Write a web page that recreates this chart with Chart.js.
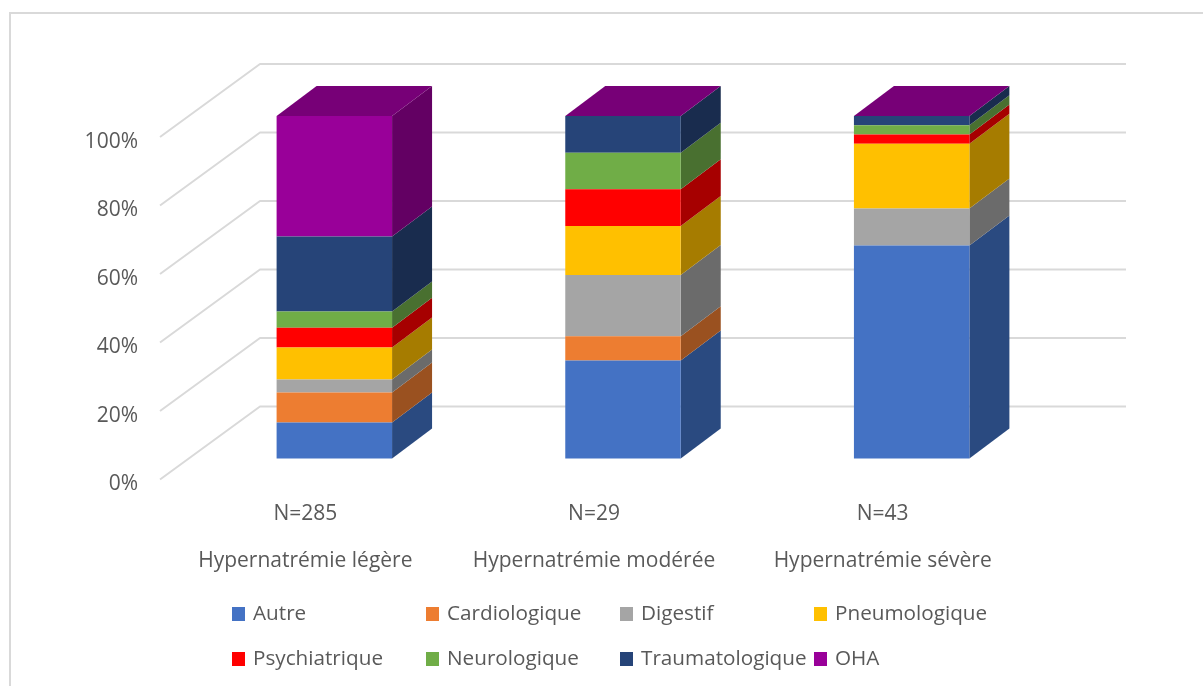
<!DOCTYPE html>
<html>
<head>
<meta charset="utf-8">
<style>html,body{margin:0;padding:0;background:#fff}canvas{display:block}</style>
<script src="https://cdn.jsdelivr.net/npm/chart.js@4"></script>
</head>
<body>
<canvas id="c" width="1203" height="686"></canvas>
<script>
const categories = [["N=285","Hypernatrémie légère"],["N=29","Hypernatrémie modérée"],["N=43","Hypernatrémie sévère"]];
const seriesNames = ["Autre","Cardiologique","Digestif","Pneumologique","Psychiatrique","Neurologique","Traumatologique","OHA"];
const autre = [10.5,28.6,62.2];
const cardiologique = [8.8,7.1,0];
const digestif = [3.8,17.9,10.8];
const pneumologique = [9.3,14.3,18.9];
const psychiatrique = [5.8,10.7,2.7];
const neurologique = [4.7,10.7,2.7];
const traumatologique = [21.9,10.7,2.7];
const oha = [35.2,0,0];
const seriesValues = [autre,cardiologique,digestif,pneumologique,psychiatrique,neurologique,traumatologique,oha];
const frontColors = ["#4472C4","#ED7D31","#A5A5A5","#FFC000","#FF0000","#70AD47","#264478","#990099"];
const sideColors = ["#2A4A80","#9A5120","#6B6B6B","#A67C00","#A60000","#497030","#192C4E","#630063"];
const topColor = "#770077";
const gridColor = "#D9D9D9";
const textColor = "#595959";
const fontFamily = "'Open Sans', sans-serif";
const legendColumns = [232,426,620,814];
const legendRows = [614,659];

const wallDX = 100, wallDY = -73;      // depth of the side wall
const barDX = 30, barDY = -21;         // bar front face offset into the depth
const sideDX = 40, sideDY = -30;       // bar depth

const scene3d = {
  id: 'scene3d',
  beforeDraw(chart){
    const c = chart.ctx;
    c.save();
    c.strokeStyle = gridColor; c.lineWidth = 2;
    c.beginPath();
    c.moveTo(10,686); c.lineTo(10,13); c.lineTo(1203,13);
    c.stroke();
    c.restore();
  },
  beforeDatasetsDraw(chart){
    const c = chart.ctx, ya = chart.scales.y, area = chart.chartArea;
    c.save();
    c.strokeStyle = gridColor; c.lineWidth = 2; c.lineJoin = 'round';
    ya.ticks.forEach(t => {
      const y = ya.getPixelForValue(t.value);
      c.beginPath();
      c.moveTo(area.left, y);
      c.lineTo(area.left + wallDX, y + wallDY);
      c.lineTo(area.right + wallDX, y + wallDY);
      c.stroke();
    });
    c.restore();
    c.save();
    c.translate(barDX, barDY);
    chart.data.datasets.forEach((ds, i) => {
      chart.getDatasetMeta(i).data.forEach(el => {
        const p = el.getProps(['x','y','base','width'], true);
        const r = p.x + p.width/2;
        if (Math.abs(p.base - p.y) < 0.01) return;
        c.fillStyle = sideColors[i];
        c.beginPath();
        c.moveTo(r, p.y); c.lineTo(r + sideDX, p.y + sideDY);
        c.lineTo(r + sideDX, p.base + sideDY); c.lineTo(r, p.base);
        c.closePath(); c.fill();
      });
    });
    const last = chart.data.datasets.length - 1;
    chart.getDatasetMeta(last).data.forEach(el => {
      const p = el.getProps(['x','y','width'], true);
      const l = p.x - p.width/2, r = p.x + p.width/2;
      c.fillStyle = topColor;
      c.beginPath();
      c.moveTo(l, p.y); c.lineTo(l + sideDX, p.y + sideDY);
      c.lineTo(r + sideDX, p.y + sideDY); c.lineTo(r, p.y);
      c.closePath(); c.fill();
    });
    c.restore();
    c.save();
    c.translate(barDX, barDY);
  },
  afterDatasetsDraw(chart){
    chart.ctx.restore();
  },
  afterDraw(chart){
    const c = chart.ctx;
    c.save();
    c.font = "20.7px " + fontFamily;
    c.textBaseline = 'middle';
    c.textAlign = 'left';
    seriesNames.forEach((name, i) => {
      const col = legendColumns[i % 4], row = legendRows[Math.floor(i/4)];
      c.fillStyle = frontColors[i];
      c.fillRect(col, row - 7, 13, 14);
      c.fillStyle = textColor;
      c.fillText(name, col + 21, row);
    });
    c.restore();
  }
};

new Chart(document.getElementById('c'), {
  type: 'bar',
  data: {
    labels: categories,
    datasets: seriesNames.map((name, i) => ({
      label: name,
      data: seriesValues[i],
      backgroundColor: frontColors[i],
      borderWidth: 0,
      clip: false
    }))
  },
  plugins: [scene3d],
  options: {
    responsive: false,
    animation: false,
    devicePixelRatio: 1,
    layout: { padding: { left: 0, right: 177, top: 137, bottom: 0 } },
    plugins: { legend: { display: false }, title: { display: false }, tooltip: { enabled: false } },
    datasets: { bar: { categoryPercentage: 1, barPercentage: 0.4 } },
    scales: {
      x: {
        stacked: true,
        grid: { display: false },
        border: { display: false },
        afterFit(s){ s.height = 206.5; },
        ticks: {
          color: textColor, padding: 3, maxRotation: 0, autoSkip: false, labelOffset: 1,
          font: { family: fontFamily, size: 21, lineHeight: 2.24 }
        }
      },
      y: {
        stacked: true,
        min: 0, max: 100,
        grid: { display: false },
        border: { display: false },
        afterFit(s){ s.width = 160; },
        ticks: {
          stepSize: 20, color: textColor, padding: 14, labelOffset: 5,
          callback: v => v + '%',
          font: { family: fontFamily, size: 21 }
        }
      }
    }
  }
});
</script>
</body>
</html>
